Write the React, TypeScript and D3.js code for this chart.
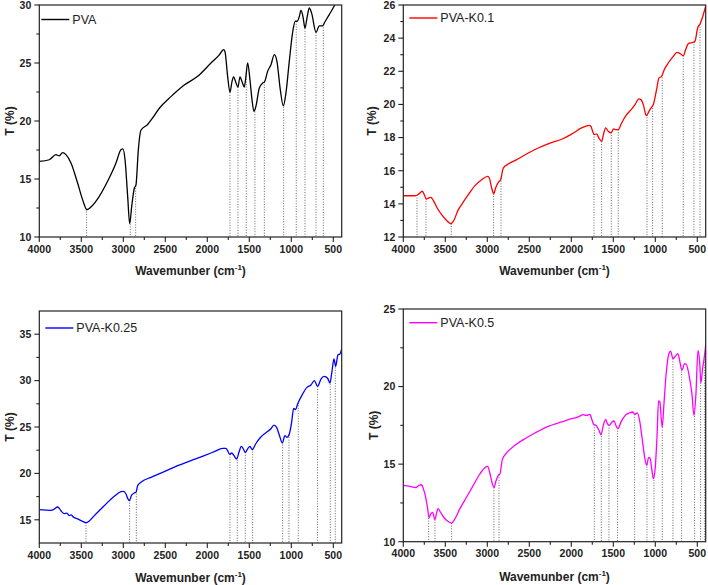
import React from "react";
import * as d3 from "d3";

// ---------- DATA (wavenumber cm^-1, transmittance %) ----------
const pvaData: [number, number][] = [
  [4000, 16.52], [3881, 16.66], [3802, 17.1], [3762, 17.0], [3722, 17.27], [3683, 17.1],
  [3623, 16.38], [3544, 14.65], [3484, 13.2], [3433, 12.35], [3385, 12.58], [3286, 13.5],
  [3187, 14.8], [3087, 16.38], [3028, 17.53], [3004, 17.6], [2980, 16.7], [2948, 13.5],
  [2924, 11.15], [2900, 12.64], [2869, 14.2], [2849, 14.5], [2821, 17.53], [2790, 19.2],
  [2710, 19.7], [2651, 20.26], [2571, 21.1], [2433, 22.1], [2274, 23.1], [2115, 23.85],
  [1956, 25.0], [1857, 25.7], [1806, 26.15], [1790, 26.0], [1758, 23.85], [1730, 22.47],
  [1706, 23.4], [1687, 23.8], [1659, 23.3], [1635, 22.93], [1611, 23.8], [1587, 23.4],
  [1560, 22.93], [1540, 23.85], [1520, 25.0], [1492, 23.56], [1468, 21.84], [1444, 20.83],
  [1421, 21.27], [1381, 22.84], [1341, 23.27], [1317, 23.4], [1282, 24.28], [1242, 24.85],
  [1202, 25.72], [1171, 25.14], [1131, 22.7], [1095, 21.3], [1064, 22.4], [1024, 25.14],
  [985, 27.6], [953, 28.6], [929, 28.6], [905, 29.0], [885, 29.54], [861, 29.0],
  [837, 28.0], [814, 28.85], [786, 29.74], [758, 29.3], [706, 27.64], [667, 28.2],
  [627, 28.2], [607, 28.45], [548, 29.17], [488, 29.94], [470, 30.2], [400, 30.9],
];
const pvaPeaks = [3437, 2917, 2853, 1730, 1635, 1536, 1433, 1321, 1091, 941, 837, 706, 619];

const k01Data: [number, number][] = [
  [4000, 14.49], [3861, 14.49], [3821, 14.57], [3774, 14.76], [3750, 14.55], [3726, 14.29],
  [3702, 14.35], [3671, 14.39], [3643, 14.21], [3603, 13.81], [3544, 13.35], [3484, 13.0],
  [3433, 12.8], [3405, 12.94], [3345, 13.65], [3306, 13.95], [3226, 14.55], [3147, 15.1],
  [3067, 15.46], [2996, 15.66], [2976, 15.56], [2948, 14.96], [2924, 14.61], [2901, 14.96],
  [2869, 15.3], [2841, 15.46], [2810, 16.16], [2750, 16.4], [2651, 16.67], [2512, 17.07],
  [2393, 17.37], [2254, 17.67], [2115, 17.9], [1996, 18.21], [1877, 18.58], [1786, 18.74],
  [1766, 18.68], [1746, 18.38], [1726, 18.18], [1698, 18.22], [1671, 17.97], [1639, 17.77],
  [1615, 18.24], [1591, 18.58], [1560, 18.38], [1528, 18.28], [1496, 18.52], [1468, 18.48],
  [1441, 18.48], [1401, 18.88], [1341, 19.38], [1282, 19.72], [1242, 19.99], [1195, 20.33],
  [1171, 20.29], [1143, 19.99], [1107, 19.32], [1076, 19.58], [1044, 19.84], [1024, 19.99],
  [985, 20.89], [957, 21.59], [925, 21.69], [893, 22.1], [846, 22.5], [786, 22.9],
  [742, 23.14], [703, 23.06], [667, 22.94], [639, 23.3], [607, 23.67], [548, 23.75],
  [528, 23.81], [496, 24.61], [468, 24.85], [441, 25.22], [401, 25.92],
];
const k01Peaks = [3837, 3730, 3429, 2925, 2837, 1730, 1639, 1524, 1441, 1099, 1032, 917, 667, 540, 468];

const k025Data: [number, number][] = [
  [4000, 16.09], [3861, 16.02], [3821, 16.16], [3782, 16.38], [3762, 16.23], [3734, 15.88],
  [3702, 15.66], [3671, 15.73], [3643, 15.45], [3623, 15.52], [3591, 15.27], [3544, 15.09],
  [3484, 14.84], [3444, 14.69], [3405, 14.87], [3345, 15.45], [3266, 16.16], [3187, 16.88],
  [3107, 17.53], [3028, 18.03], [2996, 18.07], [2968, 17.78], [2948, 17.31], [2928, 17.06],
  [2901, 17.67], [2869, 17.89], [2849, 17.96], [2829, 18.68], [2790, 19.04], [2671, 19.58],
  [2512, 20.19], [2353, 20.83], [2194, 21.37], [2036, 21.91], [1917, 22.34], [1818, 22.7],
  [1778, 22.7], [1758, 22.45], [1734, 22.05], [1710, 22.2], [1682, 21.91], [1651, 21.55],
  [1623, 22.27], [1595, 22.92], [1571, 22.63], [1548, 22.27], [1516, 22.7], [1492, 22.92],
  [1465, 22.56], [1425, 23.17], [1365, 23.89], [1306, 24.36], [1246, 24.78], [1206, 25.21],
  [1175, 24.96], [1143, 24.14], [1107, 23.28], [1076, 24.07], [1052, 23.89], [1024, 24.25],
  [996, 25.5], [972, 27.01], [949, 26.87], [925, 27.48], [865, 28.56], [814, 29.27],
  [766, 29.53], [726, 30.0], [687, 29.38], [647, 30.17], [607, 30.46], [568, 30.25],
  [540, 29.74], [520, 30.71], [492, 32.33], [472, 31.54], [445, 32.76], [421, 32.87], [401, 33.4],
];
const k025Peaks = [3444, 2925, 2845, 1730, 1643, 1548, 1460, 1103, 1028, 917, 687, 536, 476];

const k05Data: [number, number][] = [
  [4000, 13.63], [3921, 13.57], [3853, 13.48], [3813, 13.63], [3782, 13.67], [3762, 13.42],
  [3734, 12.88], [3710, 12.13], [3694, 11.55], [3671, 11.81], [3651, 11.89], [3623, 11.42],
  [3607, 11.77], [3587, 12.13], [3552, 11.85], [3504, 11.48], [3456, 11.27], [3425, 11.2],
  [3385, 11.48], [3326, 12.13], [3246, 12.88], [3167, 13.63], [3087, 14.38], [3028, 14.77],
  [2996, 14.86], [2968, 14.38], [2940, 13.74], [2920, 13.48], [2897, 13.91], [2869, 14.28],
  [2849, 14.38], [2821, 15.29], [2770, 15.72], [2671, 16.21], [2552, 16.64], [2433, 17.01],
  [2274, 17.44], [2115, 17.72], [1996, 17.93], [1917, 18.04], [1857, 18.19], [1818, 18.14],
  [1778, 18.21], [1758, 17.93], [1734, 17.56], [1706, 17.5], [1671, 17.18], [1647, 16.9],
  [1619, 17.5], [1591, 17.89], [1571, 17.61], [1548, 17.5], [1516, 17.72], [1492, 17.78],
  [1465, 17.44], [1445, 17.29], [1405, 17.76], [1357, 18.14], [1306, 18.3], [1266, 18.36],
  [1246, 18.21], [1214, 18.3], [1187, 17.82], [1159, 16.75], [1127, 15.46], [1103, 14.92],
  [1080, 15.41], [1064, 15.41], [1040, 14.6], [1024, 14.06], [1000, 14.81], [980, 16.75],
  [961, 19.07], [945, 19.0], [929, 17.93], [917, 17.39], [897, 18.89], [869, 20.94],
  [838, 22.12], [818, 22.29], [790, 21.8], [762, 21.95], [731, 22.12], [703, 21.48],
  [683, 21.05], [651, 21.48], [631, 21.43], [591, 20.51], [564, 19.54], [540, 18.14],
  [516, 19.54], [492, 22.33], [472, 21.58], [457, 20.23], [437, 21.15], [421, 21.73],
  [405, 22.44], [397, 22.87],
];
const k05Peaks = [3698, 3623, 3425, 2921, 2861, 1726, 1643, 1552, 1449, 1246, 1099, 1016, 917, 790, 687, 532, 461, 413];

const xTicks = [4000, 3500, 3000, 2500, 2000, 1500, 1000, 500];
const xMinor = [3750, 3250, 2750, 2250, 1750, 1250, 750];
const xDomain: [number, number] = [4000, 400];

const seriesNames = ["PVA", "PVA-K0.1", "PVA-K0.25", "PVA-K0.5"];
const seriesColors = ["#000000", "#ff0000", "#0000ff", "#ff00ff"];
const yDomains: [number, number][] = [[10, 30], [12, 26], [12.5, 37.5], [10, 25]];
const yTickSets = [
  [10, 15, 20, 25, 30],
  [12, 14, 16, 18, 20, 22, 24, 26],
  [15, 20, 25, 30, 35],
  [10, 15, 20, 25],
];
const yMinorSets = [
  [12.5, 17.5, 22.5, 27.5],
  [13, 15, 17, 19, 21, 23, 25],
  [17.5, 22.5, 27.5, 32.5],
  [12.5, 17.5, 22.5],
];
const allData = [pvaData, k01Data, k025Data, k05Data];
const allPeaks = [pvaPeaks, k01Peaks, k025Peaks, k05Peaks];

// ---------- LAYOUT ----------
const panels = [
  { left: 39.3, right: 341.7, top: 5, bottom: 237, legX: 2, legY: 14.5, labY: 15.5, ytx: 13.5, xlab: 15.7, xtitle: 37.5 },
  { left: 403.3, right: 705.7, top: 5, bottom: 237, legX: 6, legY: 13, labY: 17, ytx: 375.5, xlab: 15.7, xtitle: 37.5 },
  { left: 39.3, right: 341.7, top: 311, bottom: 543, legX: 6, legY: 17, labY: 21, ytx: 13.5, xlab: 15.7, xtitle: 38.5 },
  { left: 403.3, right: 705.7, top: 309, bottom: 541.7, legX: 6, legY: 13.7, labY: 18.5, ytx: 377.5, xlab: 15.7, xtitle: 39.5 },
];

const FONT = "'Liberation Sans', Arial, sans-serif";

function interp(data: [number, number][], wn: number): number {
  for (let i = 0; i < data.length - 1; i++) {
    const [x0, y0] = data[i];
    const [x1, y1] = data[i + 1];
    if ((wn <= x0 && wn >= x1)) {
      const t = (x0 - wn) / (x0 - x1);
      return y0 + t * (y1 - y0);
    }
  }
  return data[data.length - 1][1];
}

function Panel({ idx }: { idx: number }) {
  const p = panels[idx];
  const data = allData[idx];
  const x = d3.scaleLinear().domain(xDomain).range([p.left, p.right]);
  const y = d3.scaleLinear().domain(yDomains[idx]).range([p.bottom, p.top]);
  const line = d3
    .line<[number, number]>()
    .x((d) => x(d[0]))
    .y((d) => y(d[1]))
    .curve(d3.curveMonotoneX);
  const clipId = `clip${idx}`;
  const midX = (p.left + p.right) / 2;
  const midY = (p.top + p.bottom) / 2;
  return (
    <g>
      <defs>
        <clipPath id={clipId}>
          <rect x={p.left} y={p.top} width={p.right - p.left} height={p.bottom - p.top} />
        </clipPath>
      </defs>
      {/* drop lines */}
      <g clipPath={`url(#${clipId})`}>
        {allPeaks[idx].map((wn, i) => (
          <line
            key={i}
            x1={x(wn)}
            x2={x(wn)}
            y1={y(interp(data, wn))}
            y2={p.bottom}
            stroke="#555"
            strokeWidth={0.9}
            strokeDasharray="1,1.6"
          />
        ))}
        <path d={line(data) || ""} fill="none" stroke={seriesColors[idx]} strokeWidth={1.3} />
      </g>
      {/* frame */}
      <rect x={p.left} y={p.top} width={p.right - p.left} height={p.bottom - p.top} fill="none" stroke="#222" strokeWidth={1.2} />
      {/* x ticks */}
      {xTicks.map((t) => (
        <g key={t}>
          <line x1={x(t)} x2={x(t)} y1={p.bottom} y2={p.bottom + 5} stroke="#222" strokeWidth={1.1} />
          <text x={x(t)} y={p.bottom + p.xlab} textAnchor="middle" fontFamily={FONT} fontWeight="bold" fontSize={10.5} fill="#222">
            {t}
          </text>
        </g>
      ))}
      {xMinor.map((t) => (
        <line key={t} x1={x(t)} x2={x(t)} y1={p.bottom} y2={p.bottom + 3} stroke="#222" strokeWidth={1.1} />
      ))}
      {/* y ticks */}
      {yTickSets[idx].map((t) => (
        <g key={t}>
          <line x1={p.left - 5} x2={p.left} y1={y(t)} y2={y(t)} stroke="#222" strokeWidth={1.1} />
          <text x={p.left - 8} y={y(t) + 3.8} textAnchor="end" fontFamily={FONT} fontWeight="bold" fontSize={10.5} fill="#222">
            {t}
          </text>
        </g>
      ))}
      {yMinorSets[idx].map((t) => (
        <line key={t} x1={p.left - 3} x2={p.left} y1={y(t)} y2={y(t)} stroke="#222" strokeWidth={1.1} />
      ))}
      {/* axis titles */}
      <text x={midX} y={p.bottom + p.xtitle} textAnchor="middle" fontFamily={FONT} fontWeight="bold" fontSize={12} fill="#222">
        Wavemunber (cm
        <tspan dy={-5} fontSize={8}>-1</tspan>
        <tspan dy={5}>)</tspan>
      </text>
      <text
        transform={`translate(${p.ytx},${midY}) rotate(-90)`}
        textAnchor="middle"
        fontFamily={FONT}
        fontWeight="bold"
        fontSize={12}
        fill="#222"
      >
        T (%)
      </text>
      {/* legend */}
      <line x1={p.left + p.legX} x2={p.left + p.legX + 28} y1={p.top + p.legY} y2={p.top + p.legY} stroke={seriesColors[idx]} strokeWidth={1.4} />
      <text x={p.left + p.legX + 31} y={p.top + p.legY + 4.3} fontFamily={FONT} fontSize={12.5} fill="#222">
        {seriesNames[idx]}
      </text>
    </g>
  );
}

export default function App() {
  return (
    <svg width={708} height={585} style={{ position: "absolute", left: 0, top: 0, background: "#fff" }}>
      <rect width={708} height={585} fill="#fff" />
      {[0, 1, 2, 3].map((i) => (
        <Panel key={i} idx={i} />
      ))}
    </svg>
  );
}
